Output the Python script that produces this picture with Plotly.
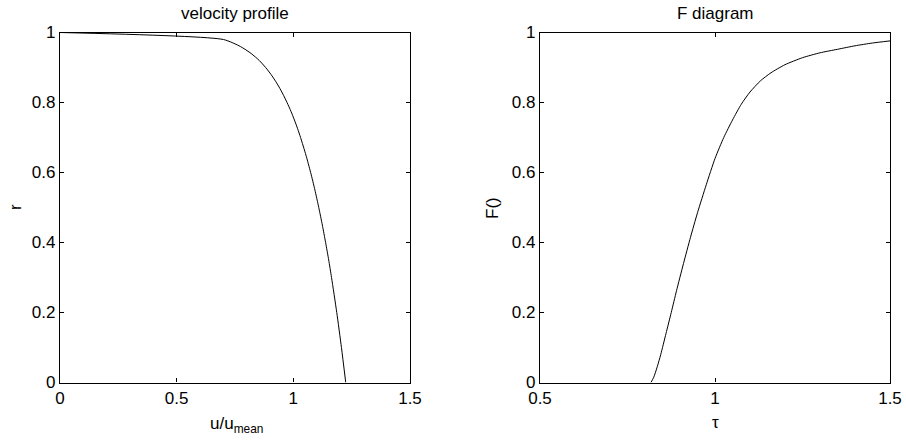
import plotly.graph_objects as go
from plotly.subplots import make_subplots

# velocity profile data (u/u_mean vs r)
r_vals = [0.0, 0.1, 0.2, 0.3, 0.35, 0.4, 0.45, 0.5, 0.55, 0.6, 0.65, 0.7, 0.725, 0.75,
          0.775, 0.8, 0.82, 0.84, 0.86, 0.88, 0.9, 0.92, 0.94, 0.96, 0.98, 1.0]
u_vals = [1.2245, 1.2062, 1.1861, 1.1637, 1.1516, 1.1383, 1.1243, 1.1090, 1.0925, 1.0742,
          1.0539, 1.0310, 1.0185, 1.0046, 0.9897, 0.9730, 0.9584, 0.9425, 0.9246, 0.9045,
          0.8813, 0.8540, 0.8193, 0.7731, 0.7002, 0.0]

# F diagram data (F vs tau)
tau_vals = [0.817, 0.825, 0.835, 0.845, 0.86, 0.875, 0.89, 0.91, 0.93, 0.95, 0.975, 1.0,
            1.025, 1.05, 1.075, 1.1, 1.13, 1.16, 1.2, 1.25, 1.3, 1.35, 1.4, 1.45, 1.5]
F_vals = [0.0, 0.015, 0.045, 0.08, 0.14, 0.2, 0.262, 0.34, 0.415, 0.485, 0.565, 0.64,
          0.7, 0.75, 0.795, 0.83, 0.862, 0.885, 0.908, 0.928, 0.942, 0.952, 0.962, 0.970, 0.976]

left_xticks = [0, 0.5, 1, 1.5]
left_xticktext = ["0", "0.5", "1", "1.5"]
right_xticks = [0.5, 1, 1.5]
right_xticktext = ["0.5", "1", "1.5"]
yticks = [0, 0.2, 0.4, 0.6, 0.8, 1]
yticktext = ["0", "0.2", "0.4", "0.6", "0.8", "1"]

W, H = 906, 442
FONT = "Liberation Sans, Arial, Helvetica, sans-serif"
FS = 17

fig = make_subplots(rows=1, cols=2)
fig.add_trace(go.Scatter(x=u_vals, y=r_vals, mode="lines", line_shape="spline",
                         line=dict(color="black", width=1, smoothing=0.6),
                         showlegend=False), row=1, col=1)
fig.add_trace(go.Scatter(x=tau_vals, y=F_vals, mode="lines", line_shape="spline",
                         line=dict(color="black", width=1, smoothing=0.6),
                         showlegend=False), row=1, col=2)

def px(x):
    return x / W

def py(y):
    return 1 - y / H

ydom = [py(382.5), py(32.5)]
axis_common = dict(showgrid=False, zeroline=False, showline=True, linecolor="black",
                   linewidth=1.3, mirror="ticks", ticks="inside", ticklen=4,
                   tickcolor="black", tickwidth=1, automargin=False,
                   tickfont=dict(family=FONT, size=FS, color="black"))

fig.update_xaxes(domain=[px(60), px(410)], range=[0, 1.5], tickvals=left_xticks,
                 ticktext=left_xticktext, **axis_common, row=1, col=1)
fig.update_xaxes(domain=[px(540), px(890)], range=[0.5, 1.5], tickvals=right_xticks,
                 ticktext=right_xticktext, **axis_common, row=1, col=2)
fig.update_yaxes(domain=ydom, range=[0, 1], tickvals=yticks, ticktext=yticktext,
                 **axis_common, row=1, col=1)
fig.update_yaxes(domain=ydom, range=[0, 1], tickvals=yticks, ticktext=yticktext,
                 **axis_common, row=1, col=2)

anns = [
    dict(text="velocity profile", x=px(235), y=py(13)),
    dict(text="F diagram", x=px(715), y=py(13)),
    dict(text="u/u<sub>mean</sub>", x=px(236), y=py(425)),
    dict(text="τ", x=px(715), y=py(422)),
    dict(text="r", x=px(15), y=py(207), textangle=-90),
    dict(text="F()", x=px(492), y=py(208), textangle=-90),
]
for a in anns:
    fig.add_annotation(xref="paper", yref="paper", showarrow=False,
                       xanchor="center", yanchor="middle",
                       font=dict(family=FONT, size=FS, color="black"), **a)

fig.update_layout(width=W, height=H, margin=dict(l=0, r=0, t=0, b=0, autoexpand=False),
                  plot_bgcolor="white", paper_bgcolor="white")

fig.write_html("out.html")
